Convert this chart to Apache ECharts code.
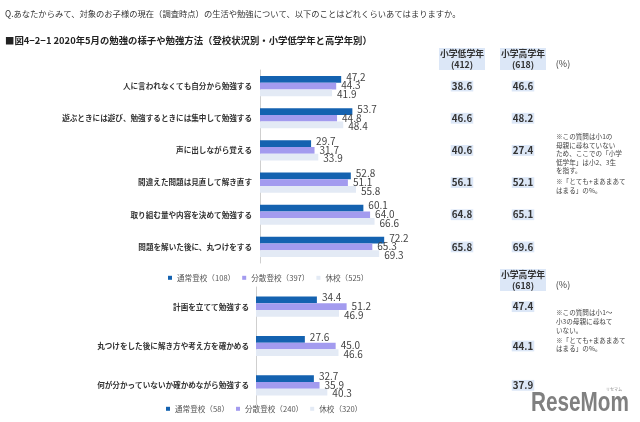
<!DOCTYPE html>
<html><head><meta charset="utf-8">
<script src="https://cdn.jsdelivr.net/npm/echarts@6/dist/echarts.min.js"></script>
<style>html,body{margin:0;padding:0;background:#fff}#c{width:640px;height:422px}</style>
</head><body><div id="c"></div>
<script>
const topCats = ['人に言われなくても自分から勉強する','遊ぶときには遊び、勉強するときには集中して勉強する','声に出しながら覚える','間違えた問題は見直して解き直す','取り組む量や内容を決めて勉強する','問題を解いた後に、丸つけをする'];
const topNormal = [47.2,53.7,29.7,52.8,60.1,72.2];
const topDist = [44.3,44.8,31.7,51.1,64.0,65.3];
const topClosed = [41.9,48.4,33.9,55.8,66.6,69.3];
const topLow = [38.6,46.6,40.6,56.1,64.8,65.8];
const topHigh = [46.6,48.2,27.4,52.1,65.1,69.6];
const topSeriesNames = ['通常登校（108）','分散登校（397）','休校（525）'];

const botCats = ['計画を立てて勉強する','丸つけをした後に解き方や考え方を確かめる','何が分かっていないか確かめながら勉強する'];
const botNormal = [34.4,27.6,32.7];
const botDist = [51.2,45.0,35.9];
const botClosed = [46.9,46.6,40.3];
const botHigh = [47.4,44.1,37.9];
const botSeriesNames = ['通常登校（58）','分散登校（240）','休校（320）'];

const colors = ['#1462b0','#a39bef','#e3eaf5'];
const FF = '"Noto Sans CJK JP","Noto Sans",sans-serif';
const labelShift = [-2.5, -0.5, 1.5];

const chart = echarts.init(document.getElementById('c'));

function barSeries(name, data, idx, k){
  return {
    type:'bar', name:name, data:data, xAxisIndex:idx, yAxisIndex:idx,
    barWidth:6.7, barGap:'0%',
    itemStyle:{color:colors[k]},
    label:{show:true, position:'right', distance:5, offset:[0,labelShift[k]], fontSize:10, color:'#444', fontFamily:FF,
      formatter:p=>p.value.toFixed(1)},
    emphasis:{disabled:true}, silent:true, animation:false
  };
}

const legendBase = {icon:'rect', itemWidth:4, itemHeight:4, itemGap:7,
  textStyle:{fontSize:7.6, color:'#555', fontFamily:FF}, selectedMode:false};

const option = {
  animation:false,
  color:colors,
  grid:[
    {left:260, top:70, width:172, height:193},
    {left:256, top:287, width:177, height:118}
  ],
  xAxis:[
    {gridIndex:0, type:'value', min:0, max:100, show:false},
    {gridIndex:1, type:'value', min:0, max:100, show:false}
  ],
  yAxis:[
    {gridIndex:0, type:'category', data:topCats, inverse:true,
     axisLine:{lineStyle:{color:'#cfcfcf'}}, axisTick:{show:false},
     axisLabel:{margin:8, fontSize:7.6, fontWeight:'bold', color:'#333', fontFamily:FF}},
    {gridIndex:1, type:'category', data:botCats, inverse:true,
     axisLine:{lineStyle:{color:'#cfcfcf'}}, axisTick:{show:false},
     axisLabel:{margin:7, fontSize:7.6, fontWeight:'bold', color:'#333', fontFamily:FF}}
  ],
  legend:[
    Object.assign({}, legendBase, {data:topSeriesNames, left:163, top:269}),
    Object.assign({}, legendBase, {data:botSeriesNames, left:161, top:400})
  ],
  series:[
    barSeries(topSeriesNames[0], topNormal, 0, 0),
    barSeries(topSeriesNames[1], topDist, 0, 1),
    barSeries(topSeriesNames[2], topClosed, 0, 2),
    barSeries(botSeriesNames[0], botNormal, 1, 0),
    barSeries(botSeriesNames[1], botDist, 1, 1),
    barSeries(botSeriesNames[2], botClosed, 1, 2)
  ]
};
chart.setOption(option);

const g = [];
function txt(x,y,text,opt){
  g.push({type:'text', x:x, y:y, silent:true, style:Object.assign({text:text, font:'8.5px '+FF, fill:'#333', align:'left', verticalAlign:'middle'}, opt||{})});
}
const hdrBg = '#dce7f7';
txt(5,14,'Q.あなたからみて、対象のお子様の現在（調査時点）の生活や勉強について、以下のことはどれくらいあてはまりますか。',{font:'8.3px '+FF, fill:'#333'});
txt(5,40,'■図4−2−1 2020年5月の勉強の様子や勉強方法（登校状況別・小学低学年と高学年別）',{font:'bold 9.4px '+FF, fill:'#222'});

function header(x,y,l1,l2){
  txt(x,y,l1+'\n'+l2,{font:'bold 8.8px '+FF, align:'center', verticalAlign:'middle', lineHeight:10.5, backgroundColor:hdrBg, padding:[1,1,0,1], fill:'#333'});
}
const colLowX = 462, colHighX = 523;
header(colLowX,59,'小学低学年','(412)');
header(colHighX,59,'小学高学年','(618)');
txt(563,64,'(%)',{font:'9px '+FF, fill:'#444', align:'center'});
header(colHighX,280,'小学高学年','(618)');
txt(563,285,'(%)',{font:'9px '+FF, fill:'#444', align:'center'});

function valBox(x,y,v){
  txt(x,y,v.toFixed(1),{font:'bold 9.8px '+FF, align:'center', backgroundColor:hdrBg, padding:[1,1,0,1], fill:'#333'});
}
topCats.forEach((c,i)=>{
  const y = chart.convertToPixel({yAxisIndex:0}, c);
  valBox(colLowX,y,topLow[i]);
  valBox(colHighX,y,topHigh[i]);
});
botCats.forEach((c,i)=>{
  const y = chart.convertToPixel({yAxisIndex:1}, c);
  valBox(colHighX,y,botHigh[i]);
});

const note1 = ['※この質問は小1の','母親に尋ねていない','ため、ここでの「小学','低学年」は小2、3生','を指す。','※「とても+まあまあて','はまる」の%。'];
const note1Y = [136.7,145,153.5,162,170.5,181.5,190];
note1.forEach((s,i)=>txt(556,note1Y[i],s,{font:'6.6px '+FF, fill:'#444'}));
const note2 = ['※この質問は小1〜','小3の母親に尋ねて','いない。','※「とても+まあまあて','はまる」の%。'];
const note2Y = [312.5,321.5,330,340,348.5];
note2.forEach((s,i)=>txt(556,note2Y[i],s,{font:'6.6px '+FF, fill:'#444'}));

g.push({type:'text', x:531, y:403, scaleX:0.74, silent:true,
  style:{text:'ReseMom', font:'bold 28px "Liberation Sans",Arial,sans-serif', fill:'#808080', verticalAlign:'middle', align:'left'}});
txt(606,389,'リセマム',{font:'4px '+FF, fill:'#888'});

chart.setOption({graphic:g});
</script></body></html>
